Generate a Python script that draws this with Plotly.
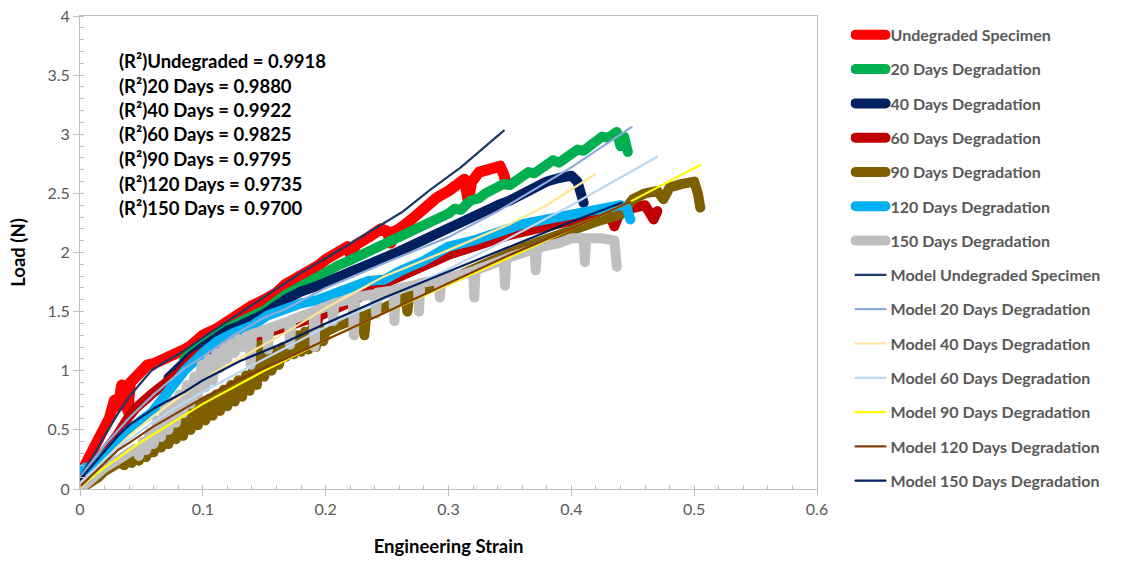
import plotly.graph_objects as go

# ---------------- data ----------------
exp_names = ["Undegraded Specimen", "20 Days Degradation", "40 Days Degradation",
             "60 Days Degradation", "90 Days Degradation", "120 Days Degradation",
             "150 Days Degradation"]
exp_colors = ["#FF0000", "#00B050", "#002060", "#C00000", "#7F6000", "#00B0F0", "#BFBFBF"]

undeg_x = [0.0, 0.004, 0.008, 0.012, 0.016, 0.02, 0.024, 0.028, 0.031, 0.034, 0.037, 0.039, 0.041,
           0.045, 0.05, 0.055, 0.06, 0.07, 0.08, 0.085, 0.09, 0.1, 0.112, 0.12, 0.13, 0.14, 0.15,
           0.16, 0.167, 0.18, 0.194, 0.2, 0.21, 0.218, 0.221, 0.224, 0.235, 0.245, 0.25, 0.253,
           0.256, 0.26, 0.27, 0.28, 0.29, 0.3, 0.31, 0.313, 0.316, 0.319, 0.325, 0.335, 0.342,
           0.345, 0.347]
undeg_y = [0.12, 0.2, 0.26, 0.38, 0.42, 0.55, 0.6, 0.75, 0.7, 0.88, 0.72, 0.66, 0.9,
           0.95, 1.0, 1.05, 1.06, 1.1, 1.15, 1.18, 1.21, 1.3, 1.36, 1.42, 1.48, 1.55, 1.6,
           1.66, 1.73, 1.8, 1.89, 1.94, 2.0, 2.05, 1.96, 2.06, 2.13, 2.2, 2.18, 2.08,
           2.18, 2.2, 2.28, 2.38, 2.46, 2.52, 2.6, 2.62, 2.44, 2.6, 2.68, 2.71, 2.73,
           2.66, 2.58]

d20_x = [0.085, 0.09, 0.1, 0.112, 0.12, 0.13, 0.14, 0.15, 0.167, 0.18, 0.194, 0.2, 0.21, 0.221,
         0.235, 0.248, 0.26, 0.27, 0.28, 0.29, 0.3, 0.305, 0.31, 0.318, 0.325, 0.33, 0.34, 0.345,
         0.35, 0.36, 0.365, 0.37, 0.38, 0.385, 0.39, 0.4, 0.405, 0.41, 0.42, 0.425, 0.43, 0.437,
         0.44, 0.443, 0.446]
d20_y = [1.1, 1.15, 1.22, 1.31, 1.36, 1.41, 1.46, 1.51, 1.64, 1.72, 1.8, 1.84, 1.89, 1.94,
         2.01, 2.07, 2.12, 2.17, 2.22, 2.27, 2.33, 2.37, 2.36, 2.44, 2.46, 2.5, 2.55, 2.58,
         2.57, 2.65, 2.68, 2.67, 2.74, 2.78, 2.76, 2.82, 2.87, 2.86, 2.94, 2.98, 2.97, 3.02,
         2.9, 2.98, 2.85]

d40_x = [0.072, 0.08, 0.09, 0.1, 0.11, 0.12, 0.13, 0.14, 0.15, 0.167, 0.18, 0.194, 0.2,
         0.21, 0.221, 0.235, 0.248, 0.26, 0.27, 0.28, 0.29, 0.3, 0.31, 0.32, 0.33, 0.34, 0.35,
         0.36, 0.37, 0.38, 0.39, 0.4, 0.405, 0.408, 0.41]
d40_y = [0.94, 1.03, 1.12, 1.2, 1.28, 1.34, 1.38, 1.43, 1.48, 1.6, 1.67, 1.72, 1.75,
         1.8, 1.84, 1.9, 1.95, 2.01, 2.06, 2.11, 2.16, 2.22, 2.27, 2.32, 2.36, 2.4, 2.44,
         2.5, 2.55, 2.6, 2.63, 2.65, 2.6, 2.5, 2.42]

d60_x = [0.0, 0.01, 0.02, 0.03, 0.039, 0.045, 0.058, 0.07, 0.08, 0.093, 0.1, 0.12, 0.14, 0.143,
         0.146, 0.17, 0.19, 0.192, 0.194, 0.22, 0.25, 0.3, 0.35, 0.4, 0.43, 0.435, 0.44, 0.46,
         0.467, 0.47]
d60_y = [0.05, 0.18, 0.3, 0.45, 0.6, 0.68, 0.8, 0.9, 0.98, 1.12, 1.16, 1.22, 1.27, 1.18,
         1.3, 1.38, 1.45, 1.27, 1.46, 1.58, 1.75, 1.98, 2.15, 2.27, 2.35, 2.22, 2.35, 2.4,
         2.28, 2.35]

d90_x = [0.0, 0.005, 0.01, 0.015, 0.02, 0.025, 0.03, 0.033, 0.036, 0.039, 0.042, 0.045, 0.048,
         0.051, 0.054, 0.057, 0.06, 0.063, 0.066, 0.069, 0.072, 0.075, 0.078, 0.081, 0.084,
         0.087, 0.09, 0.093, 0.096, 0.099, 0.102, 0.105, 0.108, 0.111, 0.114, 0.117, 0.12,
         0.123, 0.126, 0.129, 0.132, 0.135, 0.138, 0.141, 0.144, 0.147, 0.15, 0.153, 0.156,
         0.159, 0.162, 0.165, 0.168, 0.171, 0.174, 0.177, 0.18, 0.183, 0.186, 0.189, 0.192,
         0.195, 0.198, 0.2, 0.21, 0.22, 0.23, 0.2315, 0.233, 0.245, 0.255, 0.265, 0.2665,
         0.268, 0.29, 0.3, 0.32, 0.34, 0.36, 0.38, 0.4, 0.42, 0.44, 0.45, 0.46, 0.47, 0.475,
         0.48, 0.49, 0.495, 0.5, 0.503, 0.505]
d90_y = [0.0, 0.03, 0.06, 0.1, 0.15, 0.18, 0.2, 0.23, 0.2, 0.25, 0.22, 0.3, 0.24,
         0.35, 0.27, 0.42, 0.31, 0.46, 0.35, 0.5, 0.38, 0.56, 0.42, 0.62, 0.45,
         0.66, 0.5, 0.7, 0.54, 0.73, 0.58, 0.76, 0.62, 0.8, 0.66, 0.84, 0.7,
         0.88, 0.74, 0.92, 0.78, 0.96, 0.83, 1.02, 0.88, 1.22, 0.95, 1.12, 1.0,
         1.16, 1.05, 1.2, 1.12, 1.24, 1.14, 1.3, 1.16, 1.33, 1.18, 1.36, 1.2,
         1.37, 1.25, 1.33, 1.38, 1.42, 1.46, 1.3, 1.47, 1.52, 1.57, 1.62, 1.5,
         1.63, 1.72, 1.77, 1.86, 1.95, 2.04, 2.12, 2.2, 2.26, 2.32, 2.45, 2.5, 2.52, 2.45,
         2.55, 2.58, 2.6, 2.6, 2.5, 2.38]

d120_x = [0.0, 0.004, 0.008, 0.012, 0.02, 0.031, 0.04, 0.05, 0.058, 0.07, 0.085, 0.1, 0.112,
          0.125, 0.14, 0.153, 0.167, 0.18, 0.194, 0.208, 0.221, 0.235, 0.248, 0.26, 0.28, 0.3,
          0.32, 0.34, 0.36, 0.38, 0.4, 0.42, 0.44, 0.445, 0.448]
d120_y = [0.15, 0.18, 0.13, 0.2, 0.28, 0.41, 0.5, 0.58, 0.64, 0.8, 1.0, 1.15, 1.25,
          1.32, 1.38, 1.47, 1.53, 1.57, 1.6, 1.66, 1.72, 1.76, 1.77, 1.84, 1.93, 2.05,
          2.1, 2.18, 2.24, 2.28, 2.33, 2.36, 2.4, 2.38, 2.28]

d150_x = [0.0, 0.005, 0.01, 0.015, 0.02, 0.025, 0.03, 0.035, 0.04, 0.045, 0.048, 0.051, 0.054,
          0.057, 0.06, 0.063, 0.066, 0.069, 0.072, 0.075, 0.078, 0.081, 0.084, 0.087, 0.09,
          0.093, 0.096, 0.099, 0.102, 0.105, 0.108, 0.111, 0.114, 0.117, 0.12, 0.123, 0.126,
          0.129, 0.132, 0.135, 0.138, 0.139, 0.14, 0.152, 0.153, 0.154, 0.17, 0.171, 0.172,
          0.19, 0.191, 0.192, 0.205, 0.206, 0.207, 0.222, 0.223, 0.224, 0.24, 0.241, 0.242,
          0.255, 0.256, 0.257, 0.275, 0.276, 0.277, 0.292, 0.293, 0.294, 0.31, 0.32, 0.321,
          0.322, 0.345, 0.346, 0.347, 0.36, 0.37, 0.371, 0.372, 0.39, 0.4, 0.41, 0.411, 0.412,
          0.425, 0.435, 0.437]
d150_y = [0.0, 0.05, 0.1, 0.14, 0.18, 0.21, 0.24, 0.27, 0.3, 0.34, 0.28, 0.4, 0.33,
          0.48, 0.38, 0.58, 0.44, 0.68, 0.5, 0.74, 0.56, 0.8, 0.64, 0.88, 0.72,
          0.95, 0.8, 1.05, 0.86, 1.1, 0.92, 1.15, 1.02, 1.2, 1.1, 1.24, 1.15,
          1.27, 1.2, 1.29, 1.3, 1.05, 1.31, 1.35, 1.18, 1.36, 1.42, 1.22, 1.43,
          1.5, 1.2, 1.51, 1.56, 1.42, 1.57, 1.61, 1.3, 1.62, 1.65, 1.48, 1.66,
          1.68, 1.42, 1.69, 1.73, 1.5, 1.74, 1.77, 1.62, 1.78, 1.81, 1.84, 1.62,
          1.85, 1.94, 1.72, 1.95, 2.0, 2.03, 1.85, 2.04, 2.08, 2.12, 2.12, 1.92, 2.12,
          2.12, 2.1, 1.88]

model_names = ["Model Undegraded Specimen", "Model 20 Days Degradation", "Model 40 Days Degradation",
               "Model 60 Days Degradation", "Model 90 Days Degradation", "Model 120 Days Degradation",
               "Model 150 Days Degradation"]
model_colors = ["#203864", "#8FAADC", "#FFE699", "#BDD7EE", "#FFFF00", "#843C0C", "#002060"]

m_undeg_x = [0, 0.012, 0.02, 0.031, 0.04, 0.05, 0.058, 0.07, 0.085, 0.1, 0.126, 0.14, 0.167, 0.18,
             0.2, 0.221, 0.24, 0.262, 0.285, 0.31, 0.345]
m_undeg_y = [0.1, 0.3, 0.45, 0.64, 0.78, 0.9, 1.0, 1.08, 1.17, 1.28, 1.46, 1.55, 1.74, 1.83,
             1.95, 2.08, 2.2, 2.34, 2.53, 2.72, 3.03]
m20_x = [0, 0.01, 0.02, 0.04, 0.06, 0.085, 0.1, 0.125, 0.15, 0.167, 0.2, 0.25, 0.3, 0.342, 0.4, 0.449]
m20_y = [0.1, 0.24, 0.37, 0.6, 0.8, 1.02, 1.12, 1.3, 1.45, 1.52, 1.7, 1.92, 2.13, 2.36, 2.72, 3.06]
m40_x = [0, 0.02, 0.04, 0.06, 0.08, 0.1, 0.112, 0.15, 0.167, 0.2, 0.248, 0.3, 0.35, 0.38, 0.419]
m40_y = [0.0, 0.25, 0.45, 0.62, 0.77, 0.92, 1.0, 1.22, 1.32, 1.53, 1.8, 2.02, 2.24, 2.4, 2.66]
m60_x = [0, 0.02, 0.04, 0.06, 0.08, 0.1, 0.15, 0.2, 0.25, 0.3, 0.342, 0.4, 0.47]
m60_y = [0.05, 0.25, 0.42, 0.57, 0.7, 0.82, 1.1, 1.37, 1.62, 1.86, 2.08, 2.4, 2.81]
m90_x = [0, 0.02, 0.05, 0.1, 0.15, 0.2, 0.25, 0.3, 0.35, 0.4, 0.448, 0.505]
m90_y = [0.02, 0.18, 0.4, 0.72, 1.0, 1.26, 1.5, 1.73, 1.96, 2.2, 2.43, 2.74]
m120_x = [0, 0.02, 0.031, 0.04, 0.06, 0.085, 0.1, 0.13, 0.167, 0.2, 0.248, 0.3, 0.35, 0.4, 0.448]
m120_y = [0.02, 0.22, 0.33, 0.39, 0.53, 0.68, 0.77, 0.93, 1.1, 1.26, 1.49, 1.74, 1.98, 2.2, 2.43]
m150_x = [0, 0.02, 0.031, 0.04, 0.06, 0.085, 0.1, 0.13, 0.167, 0.2, 0.248, 0.3, 0.35, 0.4, 0.441]
m150_y = [0.08, 0.32, 0.45, 0.54, 0.68, 0.82, 0.92, 1.08, 1.24, 1.4, 1.62, 1.84, 2.05, 2.26, 2.42]

r2_labels = ["Undegraded", "20 Days", "40 Days", "60 Days", "90 Days", "120 Days", "150 Days"]
r2_values = ["0.9918", "0.9880", "0.9922", "0.9825", "0.9795", "0.9735", "0.9700"]

x_ticks = [0, 0.1, 0.2, 0.3, 0.4, 0.5, 0.6]
y_ticks = [0, 0.5, 1, 1.5, 2, 2.5, 3, 3.5, 4]

exp_series = [(undeg_x, undeg_y), (d20_x, d20_y), (d40_x, d40_y), (d60_x, d60_y),
              (d90_x, d90_y), (d120_x, d120_y), (d150_x, d150_y)]
model_series = [(m_undeg_x, m_undeg_y), (m20_x, m20_y), (m40_x, m40_y), (m60_x, m60_y),
                (m90_x, m90_y), (m120_x, m120_y), (m150_x, m150_y)]

# ---------------- figure ----------------
FONT = "Lato"
fig = go.Figure()
for i, ((xs, ys), name, col) in enumerate(zip(exp_series, exp_names, exp_colors)):
    fig.add_trace(go.Scatter(x=xs, y=ys, mode="lines", name=name, legendgroup="e%d" % i,
                             line=dict(color=col, width=11 if i == 0 else 10)))
for i, ((xs, ys), name, col) in enumerate(zip(model_series, model_names, model_colors)):
    fig.add_trace(go.Scatter(x=xs, y=ys, mode="lines", name=name, legendgroup="m%d" % i,
                             line=dict(color=col, width=2.2)))

axis_common = dict(showgrid=False, zeroline=False, showline=True, linecolor="#BFBFBF",
                   linewidth=1, mirror=True, ticks="outside", ticklen=6, tickcolor="#BFBFBF",
                   tickfont=dict(family=FONT, size=16, color="#595959"))
fig.update_xaxes(range=[0, 0.6], tickvals=x_ticks, ticktext=[f"{v:g}" for v in x_ticks],
                 minor=dict(dtick=0.02, ticks="inside", ticklen=4, tickcolor="#BFBFBF"),
                 title=dict(text="Engineering Strain", standoff=22,
                            font=dict(family=FONT, size=18.5, color="black", weight="bold")),
                 **axis_common)
fig.update_yaxes(range=[0, 4], tickvals=y_ticks, ticktext=[f"{v:g}" for v in y_ticks],
                 minor=dict(dtick=0.1, ticks="inside", ticklen=4, tickcolor="#BFBFBF"),
                 title=dict(text="Load (N)", standoff=16,
                            font=dict(family=FONT, size=18.5, color="black", weight="bold")),
                 **axis_common)

PLOT_TOP, PLOT_BOT = 16, 489
for i, (lab, val) in enumerate(zip(r2_labels, r2_values)):
    py = 61 + i * 24.5
    fig.add_annotation(text=f"(R²){lab} = {val}", xref="paper", yref="paper",
                       x=(117 - 80) / 737, y=(PLOT_BOT - py) / (PLOT_BOT - PLOT_TOP),
                       xanchor="left", yanchor="middle", showarrow=False,
                       font=dict(family=FONT, size=18.5, color="black", weight="bold"))

fig.update_layout(
    width=1147, height=562, paper_bgcolor="white", plot_bgcolor="white",
    margin=dict(l=80, r=330, t=16, b=73, autoexpand=False),
    legend=dict(x=1.0455, y=0.996, xanchor="left", yanchor="top", tracegroupgap=10.5,
                maxheight=560,
                font=dict(family=FONT, size=16, color="#595959", weight="bold"),
                bgcolor="rgba(0,0,0,0)"),
    showlegend=True,
)

post = """
document.querySelectorAll('.scatterlayer path.js-line, .legend path.js-line').forEach(function(p){
  p.style.strokeLinejoin='round'; p.style.strokeLinecap='round';
});
"""
fig.write_html("out.html", post_script=post)
